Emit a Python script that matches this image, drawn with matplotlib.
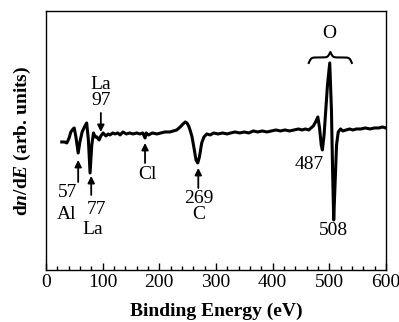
import matplotlib.pyplot as plt
import numpy as np

plt.rcParams['font.family'] = ['Liberation Serif', 'DejaVu Serif']
plt.rcParams['mathtext.fontset'] = 'custom'
plt.rcParams['mathtext.rm'] = 'Liberation Serif:bold'
plt.rcParams['mathtext.it'] = 'Liberation Serif:italic:bold'
plt.rcParams['mathtext.bf'] = 'Liberation Serif:bold'

# spectrum (energy in eV, signal in arb. units)
energy = [28, 33, 37, 41, 44, 48, 50, 53, 57, 60, 64, 68, 72, 75, 78, 81, 84, 87, 90, 94,
          97, 101, 106, 110, 113, 118, 122, 127, 131, 136, 142, 148, 154, 160, 166, 171,
          175, 177, 181, 188, 196, 203, 210, 219, 225, 231, 237, 242, 246, 249, 252, 255,
          258, 262, 265, 268, 271, 275, 279, 284, 290, 296, 304, 312, 320, 326, 334, 342,
          350, 358, 366, 374, 382, 390, 398, 406, 414, 422, 430, 438, 446, 452, 458, 464,
          468, 472, 476, 480, 483, 486, 488, 491, 494, 497, 501, 504, 506, 508, 510, 513,
          516, 520, 524, 530, 536, 542, 548, 556, 564, 572, 580, 588, 594, 600]
signal = [128, 128, 127, 132, 138, 141, 142, 133, 117, 128, 138, 143, 147, 130, 97, 125, 137,
          133, 133, 130, 134, 137, 134, 136, 135, 137, 136, 137, 135, 138, 136, 137, 136,
          137, 136, 137, 132, 137, 135, 137, 136, 137, 138, 138, 139, 140, 143, 146, 148,
          147, 144, 139, 133, 120, 110, 107, 113, 127, 133, 136, 135, 137, 136, 137, 136,
          137, 138, 137, 138, 137, 139, 138, 139, 138, 139, 140, 139, 140, 139, 140, 141,
          140, 141, 140, 142, 144, 148, 153, 142, 125, 120, 135, 160, 185, 207, 160, 100,
          50, 80, 125, 138, 141, 139, 140, 141, 140, 141, 141, 142, 141, 142, 142, 143, 142]

# arrows: (energy, tail, head)
arrows = [(57, 88, 110), (80, 75, 94), (97, 157, 138), (175, 107, 127), (269, 82, 102)]

# labels: (text, energy, signal level)
labels = [('57', 38, 77), ('Al', 36, 55), ('77', 90, 60), ('La', 83, 40),
          ('La', 97, 185), ('97', 97, 169), ('Cl', 179, 95),
          ('269', 270, 71), ('C', 270, 55), ('487', 464, 105), ('508', 508, 39),
          ('O', 500, 236)]

# brace over the oxygen peaks
brace_x = (464, 540)
brace_end, brace_tip = 207, 218

fig, ax = plt.subplots(figsize=(3.99, 3.22), dpi=100)
fig.subplots_adjust(left=0.115, right=0.967, bottom=0.1615, top=0.966)

ax.plot(energy, signal, color='black', linewidth=2.2)

for xa, y0, y1 in arrows:
    ax.annotate('', xy=(xa, y1), xytext=(xa, y0),
                arrowprops=dict(arrowstyle='-|>', color='black', lw=1.3,
                                mutation_scale=10, shrinkA=0, shrinkB=0))

for txt, tx, ty in labels:
    ax.text(tx, ty, txt, ha='center', va='center', fontsize=14)

# curly brace built from two sigmoid halves
xb = np.linspace(brace_x[0], brace_x[1], 200)
half = xb[:100]
beta = 0.5
yh = 1 / (1 + np.exp(-beta * (half - half[0]))) + 1 / (1 + np.exp(-beta * (half - half[-1])))
yb = np.concatenate([yh, yh[::-1]])
yb = brace_end + (yb - 0.5) * (brace_tip - brace_end)
ax.plot(xb, yb, color='black', lw=1.5)

ax.set_xlim(0, 600)
ax.set_ylim(0, 259)
ax.set_xticks([0, 100, 200, 300, 400, 500, 600])
ax.set_xticks(np.arange(0, 601, 20), minor=True)
ax.set_yticks([])
ax.tick_params(axis='x', direction='in', length=5, width=1, labelsize=14, pad=3)
ax.tick_params(axis='x', which='minor', direction='in', length=3, width=1)
for s in ax.spines.values():
    s.set_linewidth(1.0)

ax.set_xlabel('Binding Energy (eV)', fontsize=14, fontweight='bold', labelpad=8)
ax.set_ylabel(r'$\mathrm{d}\mathit{n}\mathrm{/d}\mathit{E}$ (arb. units)', fontsize=14,
              fontweight='bold', labelpad=9)

fig.savefig('out.png', dpi=100)
